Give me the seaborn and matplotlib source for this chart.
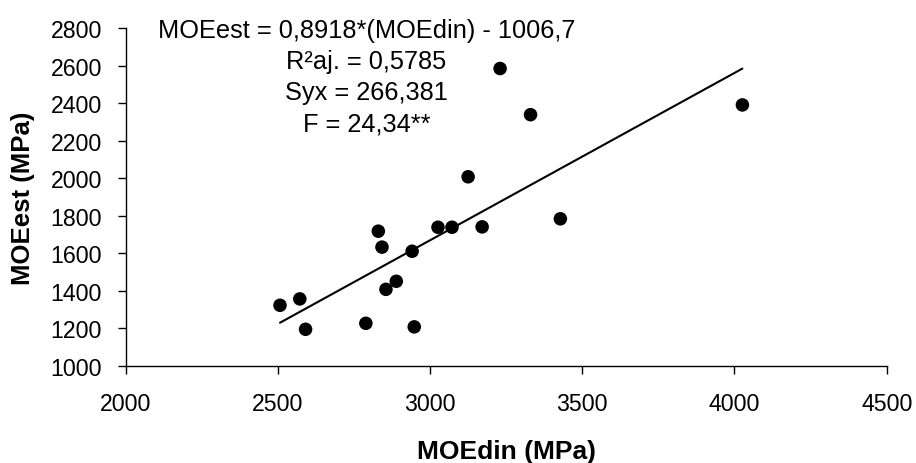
import matplotlib
matplotlib.use("Agg")
import matplotlib.pyplot as plt
import seaborn as sns
import numpy as np
import pandas as pd

# dados
moe_din = [2507, 2572, 2591, 2789, 2830, 2842, 2855, 2889, 2941, 2948,
           3026, 3072, 3171, 3125, 3230, 3330, 3428, 4026]
moe_est = [1322, 1356, 1194, 1226, 1717, 1632, 1407, 1450, 1610, 1207,
           1738, 1738, 1740, 2007, 2584, 2338, 1783, 2390]

# equação da regressão
slope = 0.8918
intercept = -1006.7

x_ticks = [2000, 2500, 3000, 3500, 4000, 4500]
y_ticks = [1000, 1200, 1400, 1600, 1800, 2000, 2200, 2400, 2600, 2800]

df = pd.DataFrame({'MOEdin': moe_din, 'MOEest': moe_est})
x_fit = np.array([min(moe_din), max(moe_din)])
fit = pd.DataFrame({'MOEdin': x_fit, 'MOEest': slope * x_fit + intercept})

sns.set_style("ticks")
plt.rcParams['font.family'] = ['Liberation Sans', 'DejaVu Sans']
plt.rcParams['text.color'] = 'black'
plt.rcParams['axes.labelcolor'] = 'black'

fig = plt.figure(figsize=(9.16, 4.64), dpi=100)
ax = fig.add_axes([0.1372, 0.2097, 0.968 - 0.1372, 0.9375 - 0.2097])

sns.lineplot(data=fit, x='MOEdin', y='MOEest', ax=ax, color='black', linewidth=1.5)
sns.scatterplot(data=df, x='MOEdin', y='MOEest', ax=ax, color='black', s=95,
                edgecolor='none', zorder=3)

ax.set_xlim(2000, 4500)
ax.set_ylim(1000, 2800)
ax.set_xticks(x_ticks)
ax.set_yticks(y_ticks)
ax.tick_params(axis='both', labelsize=16.7, length=6, width=1, color='black',
               labelcolor='black')
ax.tick_params(axis='x', pad=13)
ax.tick_params(axis='y', pad=11)
for s in ['top', 'right']:
    ax.spines[s].set_visible(False)
for s in ['left', 'bottom']:
    ax.spines[s].set_color('black')
    ax.spines[s].set_linewidth(1)

ax.set_xlabel('MOEdin (MPa)', fontsize=19, fontweight='bold', labelpad=17)
ax.set_ylabel('MOEest (MPa)', fontsize=18.5, fontweight='bold', labelpad=11)

ax.text(2791, 2855,
        'MOEest = 0,8918*(MOEdin) - 1006,7\nR²aj. = 0,5785\nSyx = 266,381\nF = 24,34**',
        ha='center', va='top', fontsize=18.3, linespacing=1.38, color='black')

fig.savefig('out.png', dpi=100)
